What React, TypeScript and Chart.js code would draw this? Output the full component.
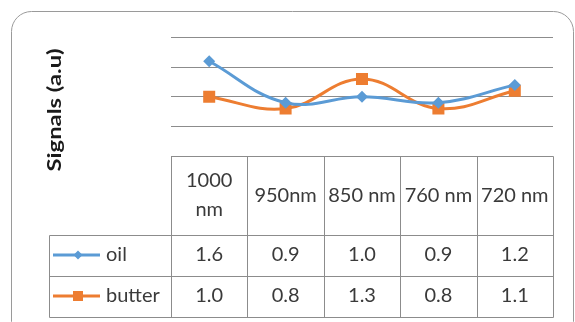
import React, { useEffect, useRef } from "react";
import { Chart, registerables } from "chart.js";

Chart.register(...registerables);

// Wavelength categories and measured signals (a.u)
const wavelengths = ["1000 nm", "950nm", "850 nm", "760 nm", "720 nm"];
const oilSignal = [1.6, 0.9, 1.0, 0.9, 1.2];
const butterSignal = [1.0, 0.8, 1.3, 0.8, 1.1];
const seriesNames = ["oil", "butter"];
const yMin = 0;
const yMax = 2;
const yStep = 0.5;

const W = 575;
const H = 322;
const FONT = "Lato, 'Open Sans', sans-serif";
const TEXT_COLOR = "#3a3a3a";
const RULE_COLOR = "#8c8c8c";
const OIL_COLOR = "#5B9BD5";
const BUTTER_COLOR = "#ED7D31";

function wrapWords(ctx: CanvasRenderingContext2D, text: string, maxW: number): string[] {
  const words = text.split(" ");
  const lines: string[] = [];
  let cur = "";
  for (const w of words) {
    const trial = cur ? cur + " " + w : w;
    if (cur && ctx.measureText(trial).width > maxW) {
      lines.push(cur);
      cur = w;
    } else {
      cur = trial;
    }
  }
  if (cur) lines.push(cur);
  return lines;
}

function drawMarker(ctx: CanvasRenderingContext2D, style: string, x: number, y: number, r: number, color: string) {
  ctx.fillStyle = color;
  ctx.beginPath();
  if (style === "rectRot") {
    ctx.moveTo(x, y - r);
    ctx.lineTo(x + r, y);
    ctx.lineTo(x, y + r);
    ctx.lineTo(x - r, y);
    ctx.closePath();
  } else {
    ctx.rect(x - r, y - r, 2 * r, 2 * r);
  }
  ctx.fill();
}

// Frame, axis title and the data table under the plot
const dataTablePlugin = {
  id: "dataTable",
  afterDraw(chart: any) {
    const { ctx, chartArea } = chart;
    const xScale = chart.scales.x;
    const left = chartArea.left;
    const right = chartArea.right;
    const n = wavelengths.length;
    const colW = (right - left) / n;
    const labelLeft = 49;
    const rowY = [chartArea.bottom, 234.5, 275.5, 316.5];

    ctx.save();

    // rounded outer frame
    ctx.strokeStyle = "#9a9a9a";
    ctx.lineWidth = 1;
    ctx.beginPath();
    (ctx as any).roundRect(11.5, 11.5, 562, 330, 20);
    ctx.stroke();

    // y axis title, stretched along its run to span the plot height
    ctx.save();
    ctx.translate(55, 110);
    ctx.rotate(-Math.PI / 2);
    ctx.fillStyle = "#1a1a1a";
    ctx.font = `bold 19px ${FONT}`;
    ctx.textAlign = "center";
    ctx.textBaseline = "middle";
    const title = "Signals (a.u)";
    const tw = ctx.measureText(title).width;
    ctx.scale(123 / tw, 1);
    ctx.fillText(title, 0, 0);
    ctx.restore();

    // table rules
    ctx.strokeStyle = RULE_COLOR;
    ctx.lineWidth = 1;
    const px = (v: number) => Math.round(v) + 0.5;
    ctx.beginPath();
    ctx.moveTo(px(left), px(rowY[0]));
    ctx.lineTo(px(right), px(rowY[0]));
    for (let r = 1; r < rowY.length; r++) {
      ctx.moveTo(px(labelLeft), px(rowY[r]));
      ctx.lineTo(px(right), px(rowY[r]));
    }
    for (let c = 0; c <= n; c++) {
      const x = px(left + c * colW);
      ctx.moveTo(x, px(rowY[0]));
      ctx.lineTo(x, px(rowY[3]));
    }
    ctx.moveTo(px(labelLeft), px(rowY[1]));
    ctx.lineTo(px(labelLeft), px(rowY[3]));
    ctx.stroke();

    // header cells
    ctx.fillStyle = TEXT_COLOR;
    ctx.font = `20px ${FONT}`;
    ctx.textAlign = "center";
    ctx.textBaseline = "middle";
    const headMid = (rowY[0] + rowY[1]) / 2;
    wavelengths.forEach((w, i) => {
      const cx = xScale.getPixelForValue(i);
      const lines = wrapWords(ctx, w, colW - 4);
      const lh = 29;
      lines.forEach((ln, k) => {
        ctx.fillText(ln, cx, headMid + (k - (lines.length - 1) / 2) * lh);
      });
    });

    // value rows with legend keys
    const datasets = chart.data.datasets;
    datasets.forEach((ds: any, r: number) => {
      const mid = (rowY[r + 1] + rowY[r + 2]) / 2;
      ctx.strokeStyle = ds.borderColor;
      ctx.lineWidth = 3;
      ctx.beginPath();
      ctx.moveTo(53, mid);
      ctx.lineTo(100, mid);
      ctx.stroke();
      drawMarker(ctx, ds.pointStyle, 78, mid, ds.pointStyle === "rect" ? 5 : 4.5, ds.borderColor);
      ctx.fillStyle = TEXT_COLOR;
      ctx.textAlign = "left";
      ctx.fillText(ds.label, 106, mid);
      ctx.textAlign = "center";
      (ds.data as number[]).forEach((v, i) => {
        ctx.fillText(v.toFixed(1), xScale.getPixelForValue(i), mid);
      });
    });

    ctx.restore();
  },
};

export default function App() {
  const ref = useRef<HTMLCanvasElement | null>(null);

  useEffect(() => {
    if (!ref.current) return;
    const chart = new Chart(ref.current, {
      type: "line",
      data: {
        labels: wavelengths,
        datasets: [
          {
            label: seriesNames[0],
            data: oilSignal,
            borderColor: OIL_COLOR,
            backgroundColor: OIL_COLOR,
            borderWidth: 3,
            pointStyle: "rectRot",
            pointRadius: 6,
            pointBorderWidth: 0,
            tension: 0.4,
          },
          {
            label: seriesNames[1],
            data: butterSignal,
            borderColor: BUTTER_COLOR,
            backgroundColor: BUTTER_COLOR,
            borderWidth: 3,
            pointStyle: "rect",
            pointRadius: 8.5,
            pointBorderWidth: 0,
            tension: 0.4,
          },
        ],
      },
      options: {
        responsive: false,
        animation: false,
        devicePixelRatio: 1,
        layout: { padding: { left: 171, right: 22, top: 37.5, bottom: 166 } },
        plugins: { legend: { display: false }, tooltip: { enabled: false }, title: { display: false } },
        scales: {
          x: { display: false, offset: true },
          y: {
            min: yMin,
            max: yMax,
            ticks: { display: false, stepSize: yStep },
            grid: { color: RULE_COLOR, lineWidth: 1, drawTicks: false },
            border: { display: false },
            afterFit: (s: any) => {
              s.width = 0;
            },
          },
        },
      },
      plugins: [dataTablePlugin],
    });
    return () => chart.destroy();
  }, []);

  return (
    <div style={{ position: "absolute", left: 0, top: 0, width: W, height: H, background: "#fff" }}>
      <canvas ref={ref} width={W} height={H} style={{ display: "block" }} />
    </div>
  );
}
